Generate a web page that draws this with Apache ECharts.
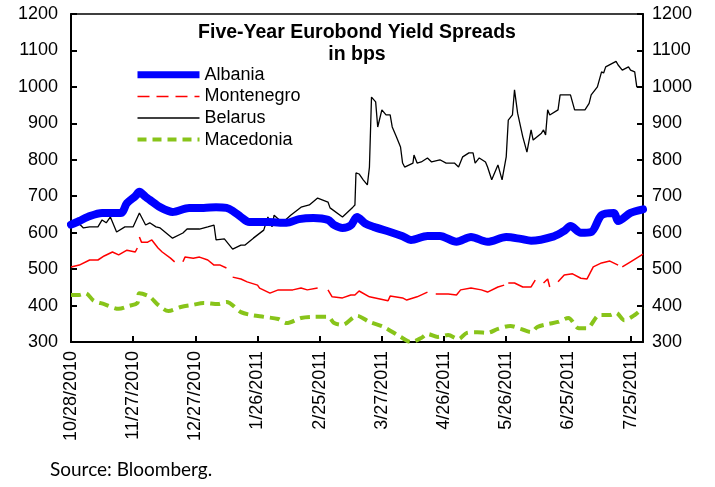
<!DOCTYPE html>
<html lang="en">
<head>
	<meta charset="UTF-8">
	<title>eurobond-spreads</title>
	<script src="https://cdn.jsdelivr.net/npm/echarts@6.0.0/dist/echarts.min.js"></script>
	<style>
		body { margin: 0; background: #fff; }
	</style>
</head>
<body>
	<div id="container" style="width:715px;height:487px;"></div>

	<script>
		// x = days since 10/28/2010, y = spread in bps
		var startDate = new Date(2010, 9, 28);
		var seriesNames = ['Albania', 'Montenegro', 'Belarus', 'Macedonia'];

		var albania = [
			[0, 622], [4, 632], [8, 643], [15, 654], [24, 654], [27, 681], [31, 700], [33, 712],
			[36, 698], [38, 690], [43, 670], [49, 657], [57, 668], [64, 668], [70, 670], [75, 668],
			[78, 660], [82, 643], [86, 629], [95, 629], [104, 627], [110, 637], [117, 640], [124, 635],
			[127, 621], [131, 613], [135, 620], [138, 643], [142, 625], [146, 616], [154, 602], [160, 590],
			[164, 580], [172, 591], [178, 591], [186, 575], [193, 588], [201, 575], [210, 588], [217, 583],
			[222, 578], [233, 590], [238, 605], [241, 618], [246, 600], [251, 602], [256, 648], [262, 654],
			[264, 632], [270, 654], [276, 664]
		];

		var montenegro = [
			[0, 506], [4, 511], [9, 525], [13, 525], [16, 536], [20, 547], [23, 539], [27, 552],
			[31, 547], [32, 558], [32.5, null], [33, 588], [34, 574], [37, 574], [39, 580], [42, 558],
			[44, 547], [48, 530], [50, 520], [52, null], [54, 520], [55, 533], [59, 530], [62, 533],
			[66, 525], [69, 511], [72, 511], [75, 503], [77, null], [78, 478], [82, 473], [85, 465],
			[90, 456], [91, 448], [96, 434], [100, 443], [104, 443], [107, 443], [111, 448], [114, 443],
			[119, 448], [121, null], [124, 443], [126, 424], [131, 421], [135, 429], [137, 429], [139, 440],
			[144, 424], [153, 413], [154, 426], [160, 421], [162, 415], [167, 424], [172, 437], [174, null],
			[176, 432], [182, 432], [186, 429], [188, 443], [193, 448], [198, 443], [201, 437], [206, 451],
			[209, 456], [210, null], [211, 462], [214, 462], [218, 451], [222, 451], [224, 470], [226, null],
			[228, 462], [230, 473], [231, 451], [233, null], [235, 465], [238, 484], [242, 487], [246, 475],
			[249, 473], [252, 506], [256, 517], [260, 522], [264, 511], [265, null], [266, 506], [270, 520],
			[276, 541]
		];

		var belarus = [
			[0, 620], [3, 630], [6, 613], [9, 616], [13, 616], [15, 635], [17, 627], [19, 643],
			[22, 602], [26, 616], [30, 616], [33, 654], [36, 621], [38, 627], [41, 616], [43, 613],
			[49, 585], [54, 599], [56, 610], [62, 610], [66, 616], [69, 621], [70, 580], [74, 583],
			[78, 555], [82, 566], [84, 566], [88, 585], [93, 607], [95, 643], [97, 616], [98, 648],
			[102, 627], [106, 648], [111, 670], [115, 676], [119, 695], [124, 684], [125, 668], [131, 643],
			[136, 670], [137, 676], [137.5, 764], [139, 761], [141, 745], [143, 731], [144, 780], [145, 972],
			[147, 959], [148, 890], [150, 937], [152, 923], [154, 923], [155, 890], [157, 863], [159, 835],
			[160, 791], [161, 780], [165, 791], [165.5, 813], [167, 791], [169, 794], [172, 805], [174, 794],
			[178, 800], [181, 791], [185, 791], [187, 780], [189, 808], [192, 819], [194, 819], [195, 791],
			[197, 805], [200, 794], [201, 780], [203, 745], [206, 786], [208, 745], [210, 808], [211, 909],
			[213, 923], [214, 992], [215.5, 928], [218, 863], [220, 821], [222, 882], [223, 854], [227, 873],
			[228, 882], [229, 868], [230, 937], [231, 923], [235, 937], [236, 978], [241, 978], [243, 937],
			[248, 937], [250, 955], [251, 978], [254, 1000], [256, 1041], [257, 1038], [258, 1055], [263, 1070],
			[264, 1060], [266, 1046], [269, 1055], [270, 1046], [272, 1041], [273, 1000], [276, 1000]
		];

		var macedonia = [
			[0, 429], [4, 429], [7, 434], [11, 413], [16, 404], [23, 391], [28, 399], [32, 407],
			[33, 434], [38, 424], [42, 402], [47, 385], [53, 396], [59, 402], [64, 407], [71, 404],
			[75, 410], [82, 382], [87, 374], [93, 369], [100, 363], [104, 352], [111, 366], [117, 369],
			[124, 369], [127, 352], [131, 347], [138, 372], [144, 355], [151, 341], [159, 314], [164, 300],
			[169, 311], [172, 322], [177, 314], [182, 319], [187, 308], [191, 325], [196, 327], [201, 325],
			[206, 336], [212, 344], [217, 336], [222, 327], [225, 341], [230, 349], [235, 355], [240, 366],
			[245, 338], [249, 338], [255, 374], [260, 374], [263, 380], [267, 360], [272, 374], [276, 393]
		];

		var yMin = 300, yMax = 1200, yStep = 100;
		var xMax = 276, xStep = 30;

		function dayLabel(v) {
			var d = new Date(startDate.getTime());
			d.setDate(d.getDate() + Math.round(v));
			return (d.getMonth() + 1) + '/' + d.getDate() + '/' + d.getFullYear();
		}

		var font = 'Liberation Sans, Arial, sans-serif';
		var axisLabelStyle = { color: '#000', fontSize: 18, fontFamily: font };

		function yAxis(pos) {
			return {
				type: 'value',
				position: pos,
				min: yMin,
				max: yMax,
				interval: yStep,
				axisLine: { show: true, lineStyle: { color: '#000', width: 2 } },
				axisTick: { show: true, inside: true, length: 6, lineStyle: { color: '#000', width: 2 } },
				axisLabel: Object.assign({
					margin: pos === 'left' ? 13 : 9,
					formatter: function (v) { return String(v); }
				}, axisLabelStyle),
				splitLine: { show: false }
			};
		}

		var dom = document.getElementById('container');
		var myChart = echarts.init(dom);

		var option = {
			backgroundColor: '#fff',
			animation: false,
			legend: {
				orient: 'vertical',
				left: 129,
				top: 59,
				itemWidth: 62,
				itemHeight: 14,
				itemGap: 0,
				itemStyle: { opacity: 0 },
				textStyle: { color: '#000', fontSize: 18, fontFamily: font, lineHeight: 21.6 },
				data: [
					{ name: 'Albania', lineStyle: { width: 7, cap: 'butt' } },
					{ name: 'Montenegro', lineStyle: { type: [12, 7], width: 1.5 } },
					{ name: 'Belarus', lineStyle: { width: 1.5 } },
					{ name: 'Macedonia', lineStyle: { type: [9, 6], width: 4 } }
				]
			},
			grid: {
				left: 71,
				right: 72,
				top: 14,
				bottom: 145,
				show: true,
				borderColor: '#000',
				borderWidth: 1.5
			},
			xAxis: {
				type: 'value',
				min: 0,
				max: xMax,
				interval: xStep,
				axisLine: { show: true, lineStyle: { color: '#000', width: 2 } },
				axisTick: { show: true, inside: true, length: 6, lineStyle: { color: '#000', width: 2 } },
				axisLabel: Object.assign({
					rotate: 90,
					margin: 9,
					showMaxLabel: false,
					formatter: function (v) { return v % xStep === 0 ? dayLabel(v) : ''; }
				}, axisLabelStyle),
				splitLine: { show: false }
			},
			yAxis: [yAxis('left'), yAxis('right')],
			series: [
				{
					name: seriesNames[0],
					type: 'line',
					data: albania,
					showSymbol: false,
					symbol: 'none',
					smooth: 0.3,
					z: 5,
					lineStyle: { color: '#0000ff', width: 8, cap: 'round', join: 'round' },
					itemStyle: { color: '#0000ff' }
				},
				{
					name: seriesNames[1],
					type: 'line',
					data: montenegro,
					showSymbol: false,
					symbol: 'none',
					connectNulls: false,
					z: 3,
					lineStyle: { color: '#ff0000', width: 1.5 },
					itemStyle: { color: '#ff0000' }
				},
				{
					name: seriesNames[2],
					type: 'line',
					data: belarus,
					showSymbol: false,
					symbol: 'none',
					z: 4,
					lineStyle: { color: '#000', width: 1.3 },
					itemStyle: { color: '#000' }
				},
				{
					name: seriesNames[3],
					type: 'line',
					data: macedonia,
					showSymbol: false,
					symbol: 'none',
					smooth: 0.3,
					z: 3,
					lineStyle: { color: '#88c41a', width: 4, type: [10, 6] },
					itemStyle: { color: '#88c41a' }
				}
			],
			graphic: {
				elements: [{
					type: 'text',
					x: 357,
					y: 22,
					style: {
						text: 'Five-Year Eurobond Yield Spreads\nin bps',
						font: 'bold 19.5px "Liberation Sans", Arial, sans-serif',
						lineHeight: 22,
						textAlign: 'center',
						fill: '#000'
					}
				}, {
					type: 'text',
					left: 50,
					top: 460,
					style: {
						text: 'Source: Bloomberg.',
						font: '19px Lato, "Open Sans", sans-serif',
						fill: '#000'
					}
				}]
			}
		};

		myChart.setOption(option);
	</script>
</body>
</html>
